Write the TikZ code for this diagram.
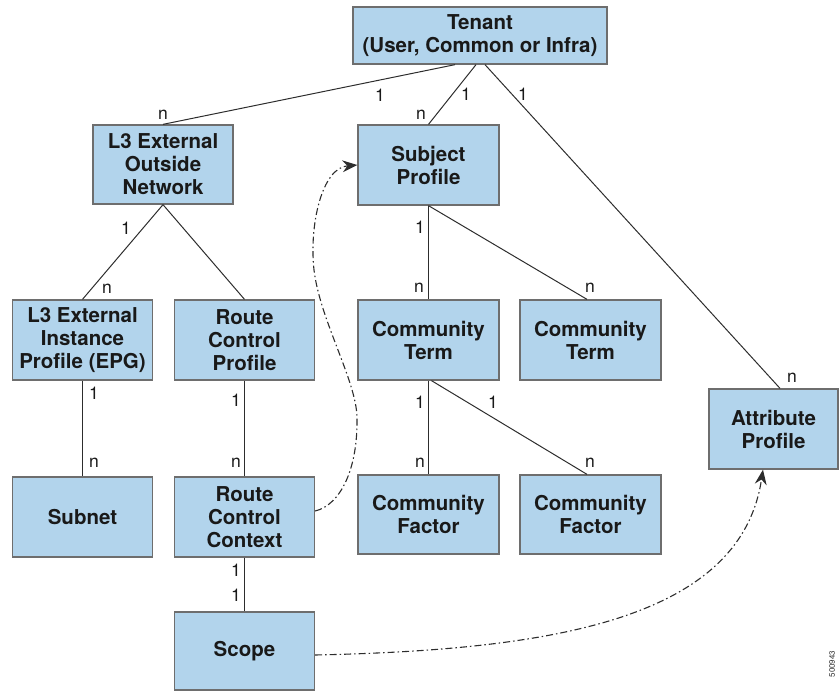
\documentclass[tikz,border=0pt]{standalone}
\usepackage{fontspec}
\setmainfont{TeX Gyre Heros}
\usetikzlibrary{arrows.meta}
\definecolor{boxfill}{RGB}{178,212,236}
\definecolor{boxline}{RGB}{110,110,110}
\definecolor{conn}{RGB}{45,45,45}
\tikzset{
  ebox/.style={draw=boxline, line width=1.3pt, fill=boxfill, inner sep=0pt, align=center,
    font=\fontsize{20.5}{23}\selectfont\bfseries, text=black!90},
  card/.style={inner sep=0pt, font=\fontsize{17.5}{20}\selectfont, text=black!90},
  rel/.style={draw=conn, line width=1pt},
  ref/.style={draw=conn, line width=1.1pt, dash pattern=on 7pt off 3pt on 1.5pt off 3pt,
    -{Stealth[length=15pt,width=12pt,inset=5pt,line width=0pt]}},
}
\begin{document}
\begin{tikzpicture}[x=1pt,y=-1pt]
\useasboundingbox (0,0) rectangle (839,691);
\begin{scope}
\clip (0,0) rectangle (839,691);
% boxes
\node[ebox, minimum width=254pt, minimum height=57pt] (tenant) at (480,35.5) {Tenant\\(User, Common or Infra)};
\node[ebox, minimum width=140pt, minimum height=79pt] (l3out) at (163,164.5) {L3 External\\Outside\\Network};
\node[ebox, minimum width=141pt, minimum height=80pt] (subj) at (428.5,165) {Subject\\Profile};
\node[ebox, minimum width=140pt, minimum height=80pt] (l3inst) at (82.5,340) {L3 External\\Instance\\Profile (EPG)};
\node[ebox, minimum width=140pt, minimum height=80pt] (rcp) at (244.5,340) {Route\\Control\\Profile};
\node[ebox, minimum width=141pt, minimum height=80pt] (ct1) at (428.5,340) {Community\\Term};
\node[ebox, minimum width=141pt, minimum height=80pt] (ct2) at (590.5,340) {Community\\Term};
\node[ebox, minimum width=129pt, minimum height=80pt] (attr) at (773.5,429) {Attribute\\Profile};
\node[ebox, minimum width=140pt, minimum height=80pt] (subnet) at (82.5,517) {Subnet};
\node[ebox, minimum width=140pt, minimum height=80pt] (rcc) at (244.5,517) {Route\\Control\\Context};
\node[ebox, minimum width=141pt, minimum height=79pt] (cf1) at (428.5,514.5) {Community\\Factor};
\node[ebox, minimum width=141pt, minimum height=79pt] (cf2) at (590.5,514.5) {Community\\Factor};
\node[ebox, minimum width=140pt, minimum height=78pt] (scope) at (244.5,651) {Scope};
% relations
\draw[rel] ([xshift=-25pt]tenant.south) -- (l3out.north);
\draw[rel] ([xshift=-4pt]tenant.south) -- (subj.north);
\draw[rel] ([xshift=5pt]tenant.south) -- ([xshift=6.5pt]attr.north);
\draw[rel] (l3out.south) -- (l3inst.north);
\draw[rel] (l3out.south) -- (rcp.north);
\draw[rel] (l3inst.south) -- (subnet.north);
\draw[rel] (rcp.south) -- (rcc.north);
\draw[rel] (rcc.south) -- (scope.north);
\draw[rel] (subj.south) -- (ct1.north);
\draw[rel] (subj.south) -- ([xshift=-3.5pt]ct2.north);
\draw[rel] (ct1.south) -- (cf1.north);
\draw[rel] ([xshift=3pt]ct1.south) -- ([xshift=-3.5pt]cf2.north);
% cardinalities
\node[card] (c1) at (380,95) {1};
\node[card] (c2) at (163,115) {n};
\node[card] (c3) at (466,94) {1};
\node[card] (c4) at (421,115) {n};
\node[card] (c5) at (523,94) {1};
\node[card] (c6) at (792,378) {n};
\node[card] (c7) at (126,228) {1};
\node[card] (c8) at (107,289) {n};
\node[card] (c9) at (94,393) {1};
\node[card] (c10) at (94,463) {n};
\node[card] (c11) at (236,400) {1};
\node[card] (c12) at (236,463) {n};
\node[card] (c13) at (236,570) {1};
\node[card] (c14) at (236,595) {1};
\node[card] (c15) at (420,227) {1};
\node[card] (c16) at (419,288) {n};
\node[card] (c17) at (590,288) {n};
\node[card] (c18) at (420,402) {1};
\node[card] (c19) at (420,463) {n};
\node[card] (c20) at (493,402) {1};
\node[card] (c21) at (590,463) {n};
% references
\draw[ref] ([yshift=6pt]rcc.east) .. controls (340,505) and (358,470) .. (357,417)
   .. controls (356,380) and (320,320) .. (314,270)
   .. controls (309,225) and (322,168) .. (subj.west);
\draw[ref] ([yshift=-4pt]scope.east) .. controls (550,650) and (740,620) .. ([xshift=-10.5pt]attr.south);
% figure number
\node[rotate=90, inner sep=0pt, font=\fontsize{8}{8}\selectfont, text=black!80] (fig) at (832,664) {500943};
\end{scope}
\end{tikzpicture}
\end{document}
